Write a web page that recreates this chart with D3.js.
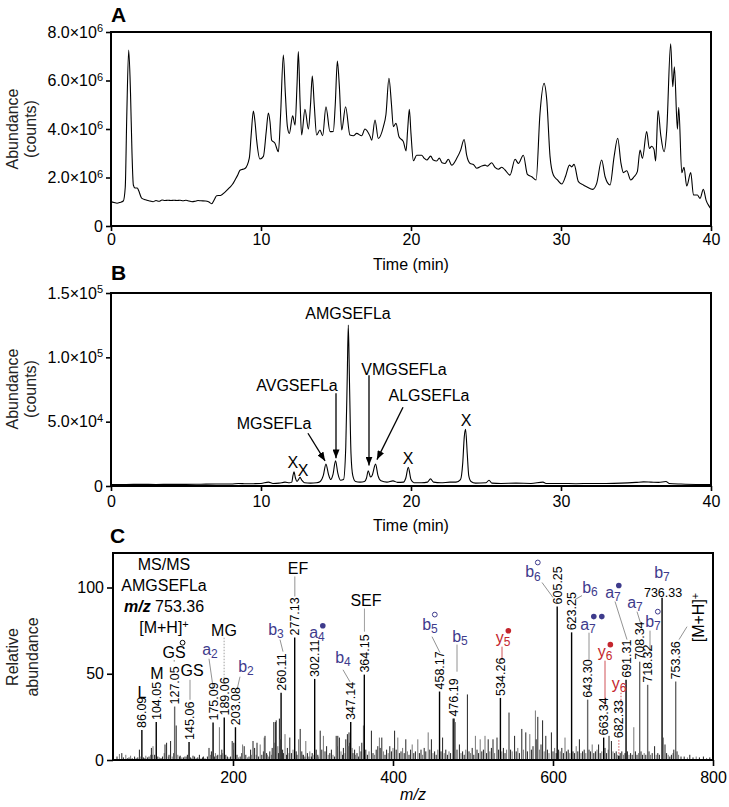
<!DOCTYPE html>
<html><head><meta charset="utf-8">
<script src="https://cdn.jsdelivr.net/npm/d3@7"></script>
<style>body{margin:0;background:#fff}svg{display:block}text{font-family:"Liberation Sans",Arial,Helvetica,sans-serif}</style>
</head><body><svg id="c" width="729" height="807"></svg>
<script>
// ---------------- DATA ----------------
// Panel A: total ion chromatogram [time (min), abundance x1e6]
const chromA = [[0,1.0],[0.2,0.97],[0.4,0.94],[0.6,0.97],[0.82,1.03],[0.95,1.6],[1.05,4.5],[1.18,7.26],[1.3,5.5],[1.4,3.0],[1.49,1.69],[1.6,1.57],[1.75,1.57],[1.85,1.45],[2.04,1.15],[2.3,1.08],[2.6,1.03],[2.8,1.0],[3.0,1.05],[3.2,1.02],[3.4,1.07],[3.6,1.05],[3.8,1.06],[4.0,1.05],[4.2,1.06],[4.4,1.05],[4.6,1.06],[4.8,1.04],[5.0,1.06],[5.2,1.03],[5.4,1.0],[5.6,1.02],[5.8,1.05],[6.0,1.04],[6.3,1.03],[6.5,1.0],[6.71,0.92],[6.9,1.1],[7.04,1.25],[7.3,1.26],[7.6,1.4],[7.93,1.6],[8.1,1.72],[8.27,1.9],[8.45,2.1],[8.6,2.3],[8.93,2.37],[9.22,2.8],[9.35,3.8],[9.49,4.74],[9.6,4.3],[9.71,3.54],[9.93,2.76],[10.16,2.87],[10.35,3.9],[10.49,4.66],[10.6,4.3],[10.71,3.54],[10.93,3.41],[11.16,3.06],[11.3,4.5],[11.49,7.05],[11.62,5.5],[11.76,4.1],[11.89,3.82],[12.11,4.54],[12.27,4.16],[12.4,5.8],[12.49,7.19],[12.6,5.2],[12.71,3.75],[12.93,4.81],[13.16,4.0],[13.3,5.0],[13.42,6.18],[13.55,5.0],[13.71,3.75],[13.93,3.96],[14.11,3.72],[14.33,4.92],[14.6,3.89],[14.82,3.9],[14.95,5.0],[15.09,6.8],[15.22,5.8],[15.38,3.96],[15.64,4.92],[15.93,3.75],[16.16,3.72],[16.38,3.82],[16.71,3.72],[16.93,4.0],[17.27,3.7],[17.38,3.54],[17.6,4.37],[17.82,3.61],[18.16,4.1],[18.33,4.6],[18.53,6.09],[18.7,5.0],[18.82,4.1],[19.0,4.23],[19.2,3.68],[19.49,3.48],[19.67,3.1],[19.78,4.0],[19.89,4.81],[20.0,3.8],[20.16,2.69],[20.38,2.92],[20.71,2.92],[20.87,2.8],[21.05,2.72],[21.31,2.88],[21.49,2.72],[21.71,2.68],[21.89,2.8],[22.07,2.61],[22.27,2.58],[22.49,2.75],[22.71,2.51],[23.05,2.79],[23.31,3.13],[23.54,3.57],[23.71,2.92],[23.94,2.58],[24.16,2.54],[24.38,2.38],[24.71,2.47],[24.94,2.51],[25.09,2.47],[25.38,2.61],[25.6,2.42],[25.83,2.34],[26.05,2.42],[26.27,2.31],[26.6,2.1],[26.94,2.75],[27.16,2.58],[27.49,2.92],[27.76,2.13],[28.05,2.03],[28.34,1.9],[28.6,4.65],[28.87,5.88],[29.05,5.2],[29.27,2.86],[29.49,2.1],[29.76,1.9],[30.05,1.73],[30.31,2.06],[30.56,2.51],[30.71,2.44],[30.87,2.54],[31.16,1.83],[31.49,1.69],[31.71,1.62],[32.11,1.51],[32.38,1.76],[32.71,2.72],[32.94,2.03],[33.27,1.69],[33.54,2.86],[33.78,3.62],[34.0,2.58],[34.16,2.2],[34.38,2.28],[34.65,1.9],[34.87,2.03],[35.09,2.24],[35.27,3.13],[35.43,2.79],[35.71,3.89],[35.89,3.2],[36.05,3.29],[36.2,3.16],[36.31,2.68],[36.47,4.76],[36.65,3.75],[36.87,3.06],[37.05,3.96],[37.31,7.51],[37.45,5.74],[37.56,6.57],[37.76,3.99],[37.85,4.89],[38.05,2.2],[38.2,2.42],[38.38,1.65],[38.65,2.2],[38.83,1.28],[39.09,1.28],[39.27,1.14],[39.49,1.51],[39.67,1.07],[39.89,0.8],[40.0,0.7]];

// Panel B: extracted ion chromatogram [time (min), abundance x1e4]
const chromB = [[0,0.12],[1,0.12],[2,0.13],[3,0.12],[4,0.13],[5,0.13],[6,0.14],[7,0.15],[8,0.15],[8.5,0.2],[9,0.17],[9.5,0.18],[10,0.2],[10.5,0.3],[10.8,0.2],[11.2,0.22],[11.6,0.3],[11.9,0.25],[12.05,0.3],[12.13,0.8],[12.2,1.1],[12.3,0.6],[12.4,0.35],[12.5,0.5],[12.6,0.67],[12.72,0.45],[12.9,0.25],[13.3,0.22],[13.7,0.25],[13.95,0.35],[14.15,0.8],[14.33,1.7],[14.5,0.9],[14.65,0.5],[14.8,0.9],[14.97,1.96],[15.12,1.0],[15.3,0.45],[15.5,0.5],[15.65,3.0],[15.75,8.5],[15.82,12.5],[15.9,8.0],[16.0,2.5],[16.12,0.8],[16.3,0.35],[16.6,0.3],[16.9,0.35],[17.03,0.6],[17.15,1.19],[17.3,0.7],[17.4,0.8],[17.64,1.7],[17.8,0.8],[18.0,0.4],[18.4,0.3],[18.8,0.4],[19.1,0.28],[19.5,0.3],[19.65,0.6],[19.82,1.45],[20.0,0.5],[20.2,0.25],[20.7,0.25],[21.1,0.3],[21.3,0.55],[21.5,0.3],[22,0.25],[22.6,0.3],[23.0,0.3],[23.3,0.5],[23.45,1.8],[23.55,3.8],[23.64,4.4],[23.75,2.5],[23.85,0.8],[24.0,0.35],[24.3,0.22],[25,0.25],[25.2,0.45],[25.4,0.22],[26,0.2],[27,0.22],[28,0.2],[28.8,0.3],[29,0.2],[30,0.2],[31,0.18],[32,0.2],[33,0.2],[34,0.22],[35,0.28],[35.5,0.32],[36,0.3],[36.5,0.28],[37,0.35],[37.2,0.2],[38,0.15],[39,0.12],[40,0.12]];

// Panel B peak names [text, time, abundance x1e4]
const peakNamesB = [["AMGSEFLa",15.8,13.0],["AVGSEFLa",12.4,7.36],["VMGSEFLa",19.53,8.6],["ALGSEFLa",21.2,6.59],["MGSEFLa",10.87,4.42],["X",12.13,1.4],["X",12.8,0.78],["X",19.8,1.7],["X",23.67,4.65]];
// arrows [t1,v1,t2,v2] (x1e4)
const arrowsB = [[13.13,4.1,14.27,1.95],[15.0,7.2,15.0,2.15],[17.2,8.6,17.2,1.6],[19.47,6.12,17.73,2.05]];

// Panel C: MS/MS spectrum, labelled peaks [m/z, relative abundance]
const labelledMz  = [86.09,104.05,127.05,145.06,175.09,189.06,203.08,260.11,277.13,302.11,347.14,364.15,458.17,476.19,534.26,605.25,623.25,643.30,663.34,682.33,691.31,708.34,718.32,736.33,753.36];
const labelledInt = [17.4,22,31,10.5,21.7,24.6,19,39,71,47,22,49.5,39.7,24,36,89,74,35,13,2.5,46.5,57,43.6,94,45.5];
// unlabelled fragment peaks [m/z, relative abundance]
const minorPeaks = [[55,2],[58,3.5],[61,4],[63,1.5],[66,3],[68,1],[70,1.5],[72,2.5],[74,1],[77,2],[79,1.2],[81,1.5],[83,6],[84,2],[88,1.5],[90,1.2],[91,2.5],[93,1.5],[95,2],[97,3],[98,7],[99,3],[100,8],[102,3],[106,2],[108,1.5],[110,1.2],[112,2],[114,4],[115,9],[117,10],[119,2],[120,3],[122,11],[124,2],[126,4],[129,20],[131,3],[133,2],[134,2.5],[136,1.5],[138,1.5],[140,2],[142,2],[143,3],[147,1.5],[148,1],[150,2.5],[152,2],[154,1.2],[156,1.5],[158,3],[160,1],[162,1.5],[163,2],[165,1.2],[168,2],[170,7],[172,3],[173,5],[177,2],[178,4],[180,2.5],[181,3],[183,19],[185,3],[186,6],[187,4],[191,3],[193,2],[195,1.5],[197,2],[199,11],[200,6],[201,10],[205,3],[207,1.5],[209,2],[211,4],[212,9],[214,8],[216,3],[218,1.5],[220,2],[222,6],[223,3],[225,11],[227,7],[229,3],[230,10],[232,2],[234,9],[236,3],[238,5],[239,13],[240,14],[242,4],[243,3],[245,2],[246,5],[248,3],[249,7],[251,22],[252,10],[253,22],[254,23],[256,8],[257,4],[258,24],[259,12],[262,6],[263,4],[265,15],[267,3],[268,7],[270,4],[271,13],[273,4],[275,6],[279,5],[280,3],[282,12],[284,18],[286,5],[287,3],[288,3],[290,2],[291,11],[293,4],[295,2],[296,5],[298,2],[299,4],[300,3],[304,6],[306,3],[307,2],[309,17],[311,6],[313,14],[315,5],[317,8],[319,3],[321,4],[323,6],[325,3],[327,2],[329,14],[330,8],[331,14],[333,13],[335,5],[337,3],[338,7],[340,4],[341,12],[343,15],[344,8],[345,16],[346,10],[349,7],[350,4],[352,6],[353,3],[355,4],[357,2],[358,8],[360,5],[361,10],[363,20],[366,6],[368,3],[370,5],[373,17],[375,4],[377,3],[379,6],[381,8],[383,13],[384,7],[386,13],[388,5],[390,3],[392,6],[394,4],[396,8],[398,5],[400,7],[402,17],[404,6],[406,13],[408,4],[410,5],[412,7],[414,4],[416,12],[418,5],[420,3],[422,6],[424,9],[426,4],[428,5],[431,12],[433,4],[435,6],[437,3],[439,7],[441,5],[444,16],[446,6],[448,12],[450,4],[452,5],[454,3],[456,6],[460,5],[462,13],[464,4],[466,6],[468,3],[470,5],[472,4],[475,24],[478,22],[480,6],[483,9],[485,4],[487,5],[489,3],[491,6],[493,38],[495,5],[497,4],[499,7],[501,3],[503,14],[505,6],[507,4],[509,12],[511,5],[513,6],[515,14],[517,4],[519,12],[521,5],[523,7],[525,12],[527,4],[530,13],[532,6],[536,5],[538,7],[540,4],[542,6],[545,27.5],[547,6],[549,5],[552,14],[554,5],[556,7],[558,4],[561,18],[563,6],[566,16],[568,5],[571,15],[573,6],[575,8],[578,28.7],[579,12],[581,25],[583,6],[585,9],[587,23],[589,5],[591,14],[593,6],[595,4],[598,16],[600,5],[602,7],[604,4],[607,6],[609,5],[611,7],[613,4],[615,13],[617,5],[619,6],[621,4],[625,5],[627,4],[629,8],[631,5],[633,12],[635,4],[637,5],[639,6],[641,4],[645,6],[647,5],[649,9],[651,4],[653,5],[655,6],[657,9],[659,4],[661,5],[665,7],[667,4],[669,6],[670,14],[673,11],[675,5],[677,4],[679,5],[681,3],[684,4],[686,5],[688,3],[690,4],[693,5],[695,3],[697,4],[699,3],[701,19],[703,5],[705,3],[707,4],[710,5],[712,3],[714,4],[716,3],[720,5],[722,3],[724,4],[727,8],[729,3],[731,4],[733,3],[738,13],[740,9],[742,4],[744,3],[746,2],[748,3],[750,4],[751,6],[755,5],[757,3],[760,2],[764,2],[768,1.5],[771,3],[775,1.5],[779,2],[783,1.5],[788,2],[792,1.2],[796,1.5]];

// tick values and labels
const aYTicks = [0,2,4,6,8];           // x1e6
const aYLabels = [["0",""],["2.0\u00d710","6"],["4.0\u00d710","6"],["6.0\u00d710","6"],["8.0\u00d710","6"]];
const bYTicks = [0,5,10,15];           // x1e4
const bYLabels = [["0",""],["5.0\u00d710","4"],["1.0\u00d710","5"],["1.5\u00d710","5"]];
const timeTicks = [0,10,20,30,40];
const cYTicks = [0,50,100];
const cXTicks = [200,400,600,800];

// ---------------- LAYOUT (annotation placement, data units) ----------------
// ion labels: [main, sub, symbol, colour, m/z, rel]
const BLUE = "#3e3b8c", RED = "#c4262e";
const ionLabels = [
 ["L","","", "#000",86.25,36.0],
 ["M","","", "#000",105,47.1],
 ["GS","","o","#000",126.25,59.3],
 ["GS","","", "#000",148.75,48.8],
 ["a","2","", BLUE,171.25,61.0],
 ["MG","","", "#000",188.75,72.1],
 ["b","2","", BLUE,216.25,51.2],
 ["b","3","", BLUE,253.75,72.7],
 ["EF","","", "#000",281.25,108.1],
 ["a","4","d", BLUE,305,70.9],
 ["b","4","", BLUE,337.5,56.4],
 ["SEF","","", "#000",366.25,89.0],
 ["b","5","o", BLUE,446.25,75.6],
 ["b","5","", BLUE,483.75,68.6],
 ["y","5","d", RED,537.5,68.0],
 ["b","6","o", BLUE,575,105.8],
 ["b","6","", BLUE,646.25,97.1],
 ["a","7","dd",BLUE,643.75,75.6],
 ["a","7","d", BLUE,675,94.2],
 ["y","6","d", RED,665,59.9],
 ["y","6","", RED,682.5,41.3],
 ["a","7","", BLUE,702.5,88.4],
 ["b","7","o", BLUE,725,77.3],
 ["b","7","", BLUE,736.25,105.6]
];
// leader lines [m1,v1,m2,v2,colour,dashed]
const leaders = [
 [126.5,58.0,126.5,57.0,"#777",0],
 [146.25,46.5,146.25,34.9,"#777",0],
 [170,58.7,175,42.4,"#777",0],
 [188.9,70.9,188.9,45.3,"#888",1],
 [208.75,48.3,205,40.7,"#777",0],
 [258.75,69.8,262.5,62.8,"#777",0],
 [277.3,106.4,277.3,94.8,"#777",0],
 [337.5,52.3,346.25,45.3,"#777",0],
 [364.3,87.8,364.3,74.4,"#888",0],
 [448.75,71.5,458.75,62.2,"#777",0],
 [480,66.9,480,51.2,"#777",0],
 [536.25,65.7,536.25,58.1,RED,0],
 [586.25,102.9,600,94.2,"#777",0],
 [636.25,95.3,627.5,93.0,"#777",0],
 [645,73.8,645,57.6,"#777",0],
 [677.5,91.9,692.5,69.8,"#777",0],
 [665,57.6,665,31.4,RED,0],
 [685,39.0,685,28.0,RED,1],
 [682.33,11.5,682.33,3.2,RED,1],
 [705,86.0,710,78.5,"#777",0],
 [721.25,75.0,721.25,62.8,"#777",0],
 [767.5,77.3,757.5,69.8,"#777",0]
];

// ---------------- DRAW ----------------
const svg = d3.select("#c");
const FONT = 16;

function frame(x0,y0,x1,y1){
  svg.append("rect").attr("x",x0).attr("y",y0).attr("width",x1-x0).attr("height",y1-y0)
     .attr("fill","none").attr("stroke","#000").attr("stroke-width",2);
}
function supLabels(g, labels){
  g.selectAll(".tick text").each(function(d,i){
    const t = d3.select(this);
    t.text(labels[i][0]);
    if(labels[i][1]) t.append("tspan").attr("dy","-0.5em").attr("font-size","11px").text(labels[i][1]);
  });
}
function styleAxis(g){
  g.select(".domain").remove();
  g.selectAll(".tick line").attr("stroke","#000").attr("stroke-width",1.6);
  g.selectAll(".tick text").attr("font-size",FONT).attr("fill","#000").attr("font-family",null);
  g.attr("font-family",null);
}
function panelLetter(t,x,y){
  svg.append("text").attr("x",x).attr("y",y).attr("font-size",21).attr("font-weight","bold").text(t);
}
function yTitle(lines, cx, cy){
  lines.forEach((l,i)=>{
    svg.append("text").attr("transform",`translate(${cx[i]},${cy}) rotate(-90)`)
      .attr("text-anchor","middle").attr("font-size",FONT).attr("fill","#222").text(l);
  });
}

// ---- Panel A ----
const xA = d3.scaleLinear().domain([0,40]).range([111,711]);
const yA = d3.scaleLinear().domain([0,8]).range([226,32]);
svg.append("path").datum(chromA)
  .attr("d", d3.line().x(d=>xA(d[0])).y(d=>yA(d[1])).curve(d3.curveMonotoneX))
  .attr("fill","none").attr("stroke","#000").attr("stroke-width",1.1);
frame(111,32,711,226);
let g = svg.append("g").attr("transform","translate(111,0)")
  .call(d3.axisLeft(yA).tickValues(aYTicks).tickSize(5).tickPadding(3));
styleAxis(g); supLabels(g,aYLabels);
g = svg.append("g").attr("transform","translate(0,226)")
  .call(d3.axisBottom(xA).tickValues(timeTicks).tickSize(5).tickPadding(3).tickFormat(d3.format("d")));
styleAxis(g);
svg.append("text").attr("x",411).attr("y",270).attr("text-anchor","middle").attr("font-size",FONT).text("Time (min)");
yTitle(["Abundance","(counts)"],[18,36],129);
panelLetter("A",111,22);

// ---- Panel B ----
const xB = d3.scaleLinear().domain([0,40]).range([111,711]);
const yB = d3.scaleLinear().domain([0,15]).range([486,293]);
svg.append("path").datum(chromB)
  .attr("d", d3.line().x(d=>xB(d[0])).y(d=>yB(d[1])).curve(d3.curveMonotoneX))
  .attr("fill","none").attr("stroke","#000").attr("stroke-width",1.1);
frame(111,293,711,486);
g = svg.append("g").attr("transform","translate(111,0)")
  .call(d3.axisLeft(yB).tickValues(bYTicks).tickSize(5).tickPadding(3));
styleAxis(g); supLabels(g,bYLabels);
g = svg.append("g").attr("transform","translate(0,486)")
  .call(d3.axisBottom(xB).tickValues(timeTicks).tickSize(5).tickPadding(5).tickFormat(d3.format("d")));
styleAxis(g);
svg.append("text").attr("x",411).attr("y",531).attr("text-anchor","middle").attr("font-size",FONT).text("Time (min)");
yTitle(["Abundance","(counts)"],[18,36],389);
panelLetter("B",111,280);

svg.append("defs").append("marker").attr("id","ah").attr("viewBox","0 0 10 8")
  .attr("refX",10).attr("refY",4).attr("markerWidth",9).attr("markerHeight",7).attr("markerUnits","userSpaceOnUse")
  .attr("orient","auto").append("path").attr("d","M0,0L10,4L0,8Z").attr("fill","#000");
svg.selectAll(".arB").data(arrowsB).join("line")
  .attr("x1",d=>xB(d[0])).attr("y1",d=>yB(d[1])).attr("x2",d=>xB(d[2])).attr("y2",d=>yB(d[3]))
  .attr("stroke","#000").attr("stroke-width",1.3).attr("marker-end","url(#ah)");
svg.selectAll(".pnB").data(peakNamesB).join("text")
  .attr("x",d=>xB(d[1])).attr("y",d=>yB(d[2])).attr("text-anchor","middle").attr("font-size",FONT).text(d=>d[0]);

// ---- Panel C ----
const xC = d3.scaleLinear().domain([50,800]).range([113,713]);
const yC = d3.scaleLinear().domain([0,120]).range([760,553]);
const gc = svg.append("g");
gc.selectAll(".mp").data(minorPeaks).join("line")
  .attr("x1",d=>xC(d[0])).attr("x2",d=>xC(d[0])).attr("y1",yC(0)).attr("y2",d=>yC(d[1]))
  .attr("stroke",(d,i)=> i%3===1 ? "#777" : "#222").attr("stroke-width",1);
const labelled = labelledMz.map((m,i)=>[m,labelledInt[i]]);
gc.selectAll(".lp").data(labelled).join("line")
  .attr("x1",d=>xC(d[0])).attr("x2",d=>xC(d[0])).attr("y1",yC(0)).attr("y2",d=>yC(d[1]))
  .attr("stroke",d=>[127.05,643.30,708.34,718.32,753.36].includes(d[0])?"#666":"#000").attr("stroke-width",1.4);
frame(113,553,713,760);
g = svg.append("g").attr("transform","translate(113,0)")
  .call(d3.axisLeft(yC).tickValues(cYTicks).tickSize(6).tickPadding(3));
styleAxis(g);
g = svg.append("g").attr("transform","translate(0,760)")
  .call(d3.axisBottom(xC).tickValues(cXTicks).tickSize(6).tickPadding(6).tickFormat(d3.format("d")));
styleAxis(g);
svg.append("text").attr("x",413).attr("y",800).attr("text-anchor","middle").attr("font-size",FONT).attr("font-style","italic").text("m/z");
yTitle(["Relative","abundance"],[18,38],657);
panelLetter("C",110,543);

// leader lines
gc.selectAll(".ld").data(leaders).join("line")
  .attr("x1",d=>xC(d[0])).attr("y1",d=>yC(d[1])).attr("x2",d=>xC(d[2])).attr("y2",d=>yC(d[3]))
  .attr("stroke",d=>d[4]).attr("stroke-width",0.8).attr("stroke-dasharray",d=>d[5]?"1.5,1.5":null);

// m/z value labels, rotated
labelled.forEach(d=>{
  const txt = d3.format(".2f")(d[0]);
  if (d[0]===736.33){
    gc.append("text").attr("x",xC(d[0])+1).attr("y",yC(d[1])-1).attr("text-anchor","middle").attr("font-size",12.5).text(txt);
    return;
  }
  const base = d[0]===682.33 ? 11.5 : d[1];
  gc.append("text").attr("transform",`translate(${xC(d[0])},${yC(base)-2}) rotate(-90)`)
    .attr("dy","0.36em").attr("font-size",12.5).text(txt);
});

// ion labels
ionLabels.forEach(L=>{
  const x = xC(L[4]), y = yC(L[5]);
  const t = gc.append("text").attr("x",x).attr("y",y).attr("text-anchor","middle").attr("font-size",FONT).attr("fill",L[3]).text(L[0]);
  if (L[1]) t.append("tspan").attr("dy","0.3em").attr("font-size","12px").text(L[1]);
  const w = t.node().getComputedTextLength();
  const xr = x + w/2;
  if (L[2]==="o") gc.append("circle").attr("cx",xr-3).attr("cy",y-15).attr("r",2.4).attr("fill","none").attr("stroke",L[3]).attr("stroke-width",1);
  if (L[2]==="d") gc.append("circle").attr("cx",xr-2).attr("cy",y-12).attr("r",2.8).attr("fill",L[3]);
  if (L[2]==="dd"){ gc.append("circle").attr("cx",xr-2).attr("cy",y-13).attr("r",2.8).attr("fill",L[3]);
                    gc.append("circle").attr("cx",xr+6).attr("cy",y-13).attr("r",2.8).attr("fill",L[3]); }
});

// [M+H]+ rotated label
const mh = gc.append("text").attr("transform",`translate(${xC(781.25)},${yC(82.6)}) rotate(-90)`)
  .attr("text-anchor","middle").attr("dy","0.36em").attr("font-size",FONT).text("[M+H]");
mh.append("tspan").attr("dy","-0.45em").attr("font-size","11px").text("+");

// info block
const info = [["MS/MS",109.9],["AMGSEFLa",97.7],["",86.0],["[M+H]",73.8]];
info.forEach((d,i)=>{
  const t = gc.append("text").attr("x",xC(113.75)).attr("y",yC(d[1])).attr("text-anchor","middle").attr("font-size",FONT);
  if (i===2){ t.append("tspan").attr("font-weight","bold").attr("font-style","italic").text("m/z");
              t.append("tspan").text(" 753.36"); }
  else if (i===3){ t.text(d[0]); t.append("tspan").attr("dy","-0.45em").attr("font-size","11px").text("+"); }
  else t.text(d[0]);
});
</script></body></html>
